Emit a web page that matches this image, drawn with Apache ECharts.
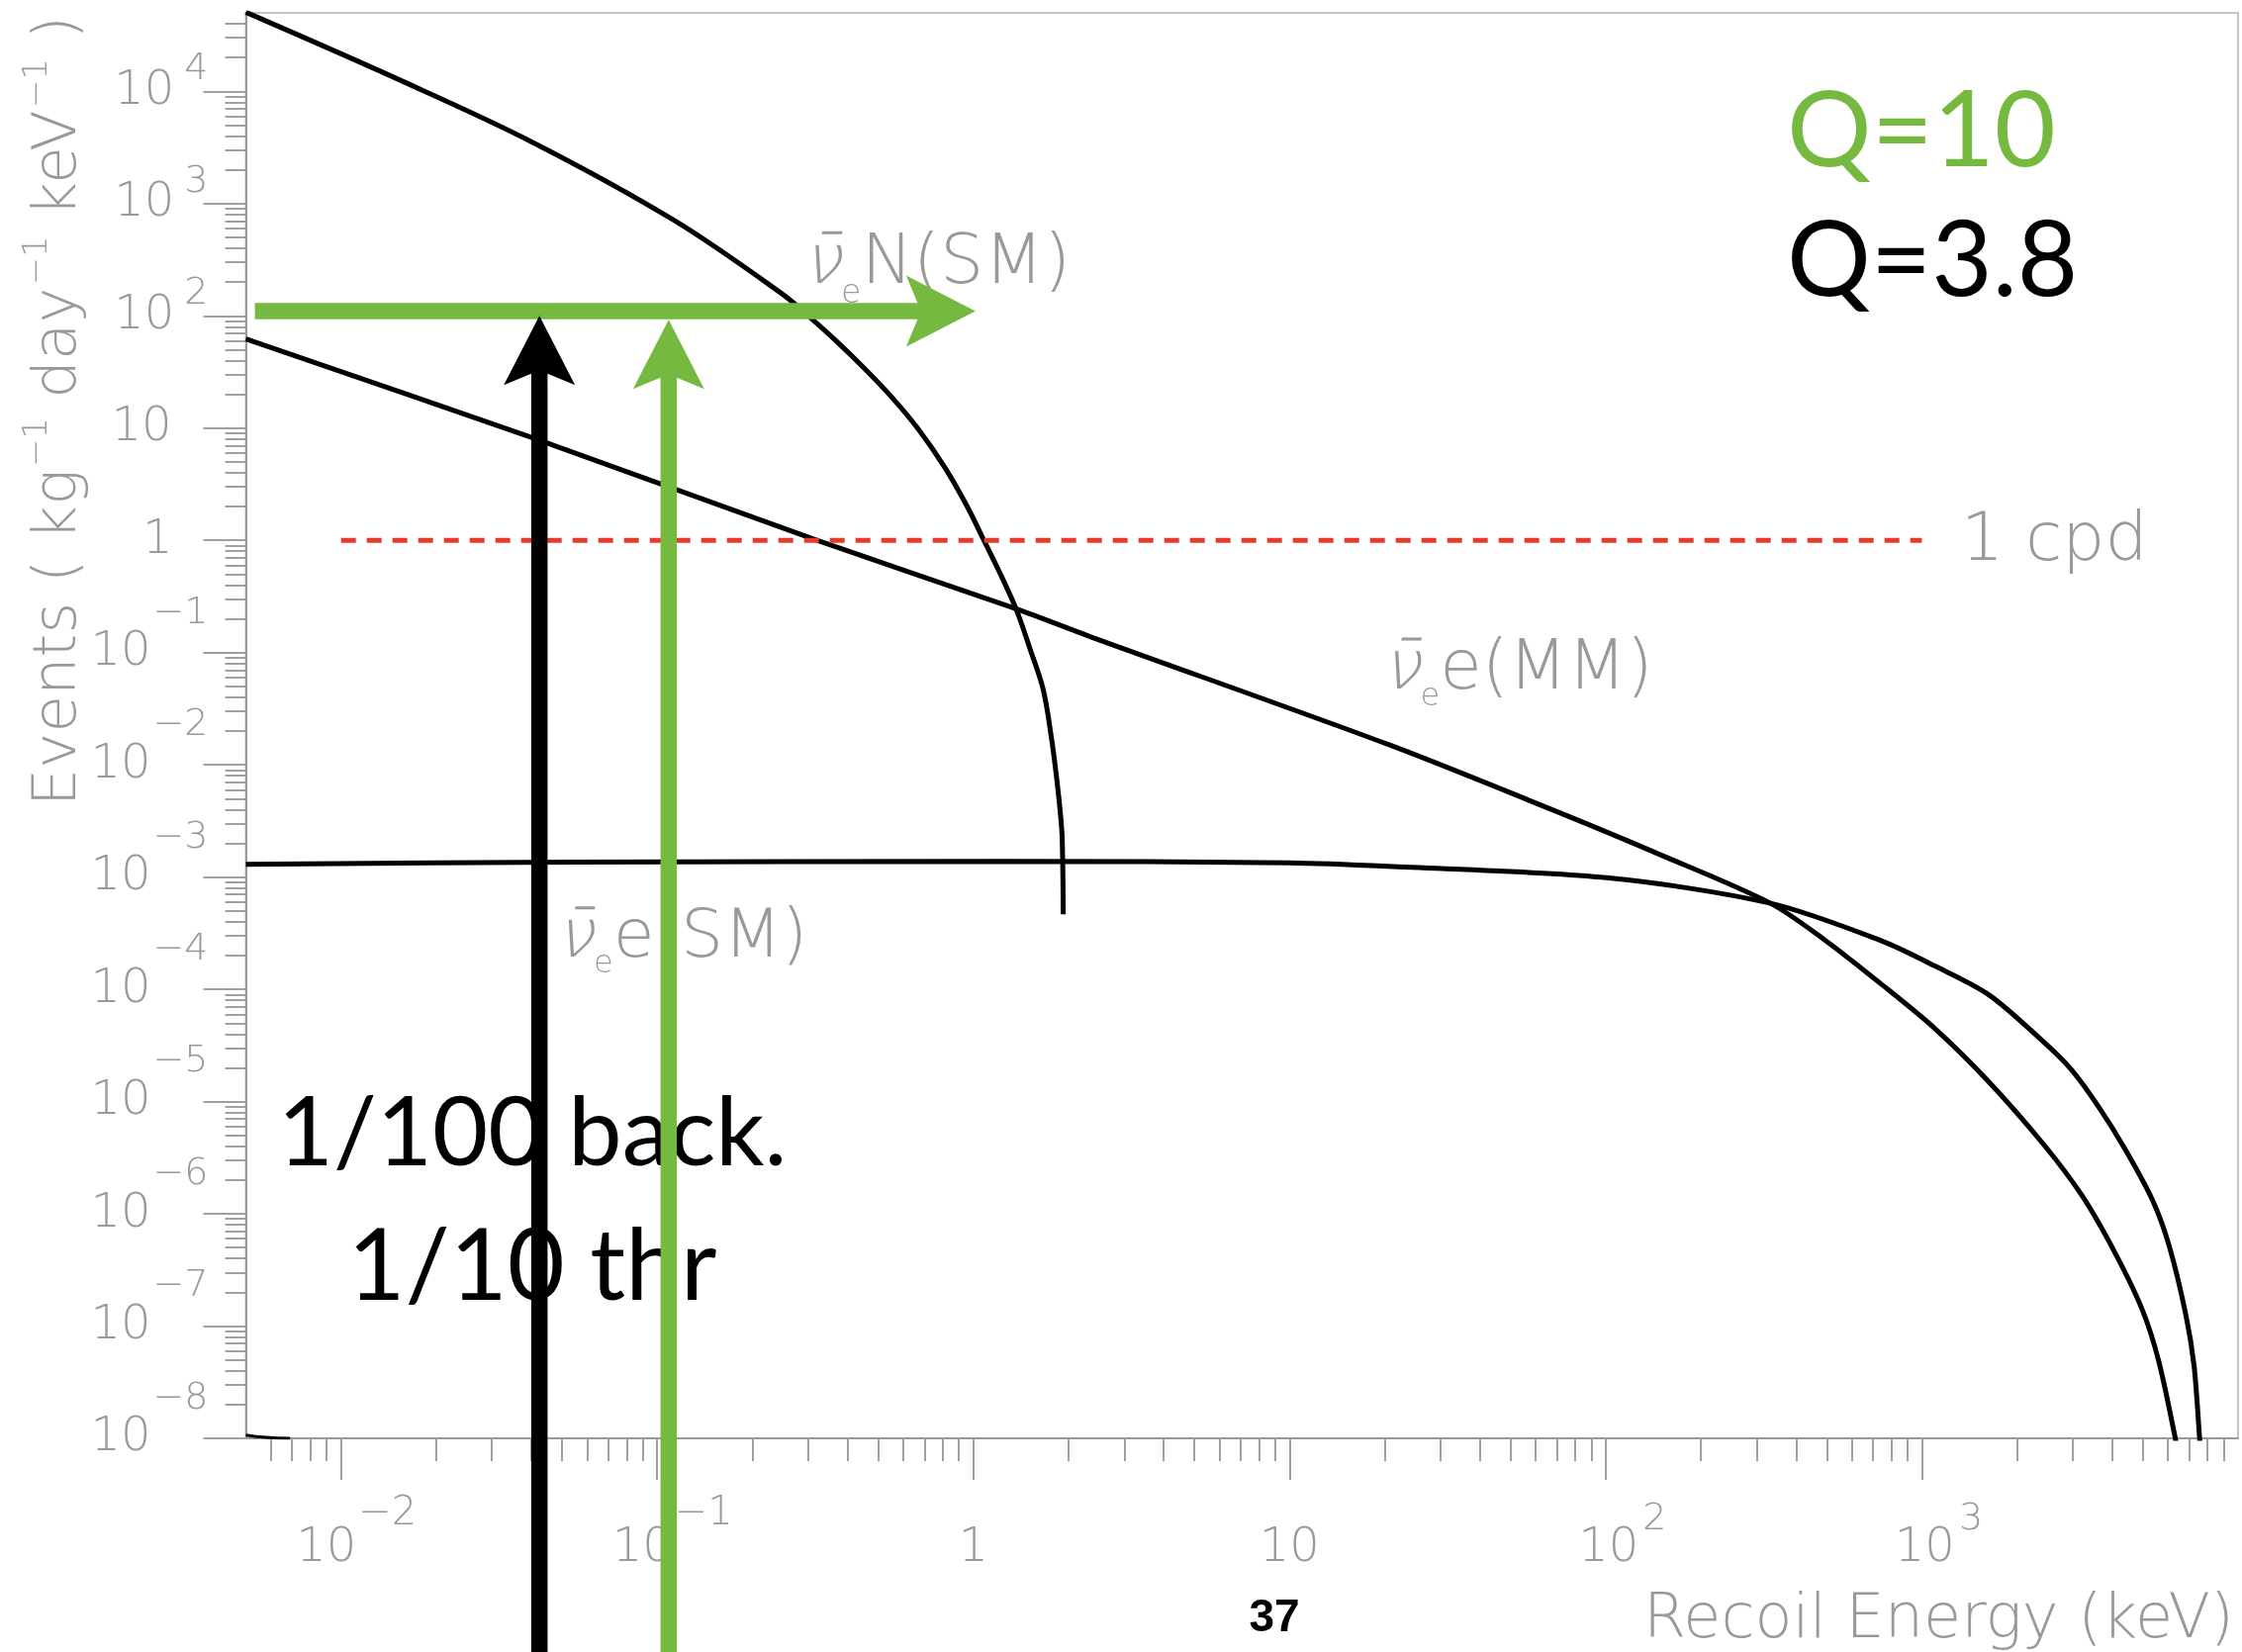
<!DOCTYPE html>
<html><head><meta charset="utf-8">
<script src="https://cdn.jsdelivr.net/npm/echarts@6/dist/echarts.min.js"></script>
<style>html,body{margin:0;padding:0;background:#fff}#c{width:2266px;height:1670px}</style>
</head><body><div id="c"></div>
<script>
// ---------- data ----------
const xMajorTicks = [0.01, 0.1, 1, 10, 100, 1000];
const yMajorTicks = [1e-8, 1e-7, 1e-6, 1e-5, 1e-4, 1e-3, 1e-2, 1e-1, 1, 10, 100, 1e3, 1e4];
const mantissas = [2, 3, 4, 5, 6, 7, 8, 9];

// anti-nu_e N (SM) coherent scattering
const nuN_SM = [[0.005, 5.06e4], [0.01564, 1.23e4], [0.0404, 3510], [0.113, 710], [0.249, 156], [0.3038, 97.2],
  [0.3701, 58.9], [0.4508, 34.3], [0.5496, 19.1], [0.6696, 9.8], [0.8162, 4.36], [0.956, 2.0], [1.076, 1.02],
  [1.212, 0.514], [1.364, 0.2457], [1.506, 0.1107], [1.663, 0.0468], [1.765, 0.01746], [1.836, 7.4e-3],
  [1.887, 3.54e-3], [1.910, 2.16e-3], [1.924, 4.66e-4]];
// anti-nu_e e (MM)
const nue_MM = [[0.005, 62.2], [0.0404, 8.18], [0.3166, 1.01], [1.364, 0.2457], [2.353, 0.138],
  [20.46, 0.01522], [67.55, 3.99e-3], [149.7, 1.57e-3], [331.9, 5.84e-4], [494, 2.74e-4], [736, 1.14e-4],
  [1096, 4.51e-5], [1632, 1.49e-5], [2429, 4.14e-6], [3211, 1.45e-6], [4076, 4.53e-7], [4973, 1.41e-7],
  [5606, 4.94e-8], [6320, 1.03e-8], [6450, 7e-9]];
// anti-nu_e e (SM)
const nue_SM = [[0.005, 1.30e-3], [0.0546, 1.36e-3], [1.243, 1.38e-3], [10, 1.34e-3], [20.46, 1.245e-3],
  [100.6, 9.86e-4], [331.9, 5.84e-4], [736, 2.74e-4], [1096, 1.62e-4], [1632, 8.9e-5], [2429, 3.39e-5],
  [2963, 1.94e-5], [3614, 9.06e-6], [4412, 3.68e-6], [5386, 1.29e-6], [6067, 5.09e-7], [6839, 1.26e-7],
  [7261, 4.41e-8], [7553, 1.03e-8], [7620, 7e-9]];
// small stroke at the lower-left corner
const cornerStroke = [[0.005, 1.07e-8], [0.0058, 1.02e-8], [0.0069, 1.0e-8]];
// 1 count per day reference line
const cpdLine = [[0.01, 1], [1000, 1]];
// arrows: [x0, y0, x1(tip), y1(tip)]
const arrows = [[0.00534, 110, 1.015, 110], [0.0424, 1e-10, 0.0424, 100], [0.1087, 1e-10, 0.1087, 92]];
const arrowColors = ['#76b940', '#000000', '#76b940'];

// ---------- styles ----------
const GRAY = '#999999';
const FONT = '"DejaVu Sans"';
const NU_FONT = '"DejaVu Sans Light", "DejaVu Sans ExtraLight", "DejaVu Sans"';
const GREEN = '#76b940';
const SLIDE_FONT = 'Lato';

const xMinorTicks = [], yMinorTicks = [];
for (let e = -3; e <= 3; e++) mantissas.forEach(m => { const v = m * Math.pow(10, e); if (v > 0.005 && v < 1e4) xMinorTicks.push(v); });
for (let e = -8; e <= 4; e++) mantissas.forEach(m => { const v = m * Math.pow(10, e); if (v < 5e4) yMinorTicks.push(v); });

function expo(v) { return Math.round(Math.log10(v)); }
function supText(e) { return e < 0 ? '\u2212' + (-e) : String(e); }

function fmtX(v) {
  const e = expo(v);
  if (e === 0) return '{b|1}';
  if (e === 1) return '{b|10}';
  return e < 0 ? '{padN|\u00a0}{b|10}{sn|' + supText(e) + '}' : '{padP|\u00a0}{b|10}{sp|' + supText(e) + '}';
}
function fmtY(v) {
  const e = expo(v);
  if (e === 0) return '{b|1}{pad1|\u00a0}';
  if (e === 1) return '{b|10}{pad2|\u00a0}';
  return e < 0 ? '{b|10}{sn|' + supText(e) + '}' : '{b|10}{sp|' + supText(e) + '}';
}
const base = { fontFamily: FONT, fontWeight: 200, color: GRAY };
const tickLine = { color: '#a0a0a0', width: 2 };

const nuRich = (size, subSize, subDrop) => ({
  nu: Object.assign({}, base, { fontFamily: NU_FONT, fontStyle: 'italic', fontSize: size, lineHeight: 160 }),
  sub: Object.assign({}, base, { fontSize: subSize, lineHeight: subSize, padding: [subDrop * 2, 0, 0, 1] }),
  t: Object.assign({}, base, { fontSize: size, lineHeight: 160 })
});

function txt(x, y, text, extra) {
  return Object.assign({ type: 'text', x: x, y: y, z: 5, style: Object.assign({
    text: text, fill: GRAY, font: '200 60px ' + FONT, align: 'left', verticalAlign: 'middle',
    textAlign: 'left', textVerticalAlign: 'middle' }, extra.style || {}) }, extra.el || {});
}

const option = {
  animation: false,
  backgroundColor: '#fff',
  grid: { left: 248.5, right: 4, top: 13, bottom: 216, show: true, borderColor: '#c4c4c4', borderWidth: 2,
    containLabel: false, outerBoundsMode: 'none' },
  xAxis: [{
    type: 'log', min: 0.005, max: 1e4, position: 'bottom',
    axisLine: { show: true, lineStyle: { color: '#999', width: 2 } },
    axisTick: { show: true, inside: false, length: 42, customValues: xMajorTicks, lineStyle: tickLine },
    axisLabel: { show: true, customValues: xMajorTicks, formatter: fmtX, margin: 57, showMinLabel: true, showMaxLabel: true,
      align: 'center', verticalAlign: 'top',
      rich: {
        b: Object.assign({}, base, { fontSize: 48, lineHeight: 110 }),
        padP: { width: 34 }, padN: { width: 31 },
        sp: Object.assign({}, base, { fontSize: 38, lineHeight: 38, padding: [0, 0, 60, 4] }),
        sn: Object.assign({}, base, { fontSize: 40, lineHeight: 40, padding: [0, 0, 70, 2] })
      } },
    splitLine: { show: false }
  }, {
    type: 'log', min: 0.005, max: 1e4, position: 'bottom',
    axisLine: { show: false },
    axisTick: { show: true, inside: false, length: 23, customValues: xMinorTicks, lineStyle: tickLine },
    axisLabel: { show: false }, splitLine: { show: false }
  }],
  yAxis: [{
    type: 'log', min: 1e-8, max: 5e4, position: 'left',
    axisLine: { show: true, lineStyle: { color: '#999', width: 2 } },
    axisTick: { show: true, inside: false, length: 43, customValues: yMajorTicks, lineStyle: tickLine },
    axisLabel: { show: true, customValues: yMajorTicks, formatter: fmtY, margin: 38, showMinLabel: true, showMaxLabel: true,
      align: 'right', verticalAlign: 'middle',
      rich: {
        b: Object.assign({}, base, { fontSize: 48, lineHeight: 48 }),
        pad1: { width: 36 }, pad2: { width: 37 },
        sp: Object.assign({}, base, { fontSize: 38, lineHeight: 38, padding: [-22, 0, 22, 10] }),
        sn: Object.assign({}, base, { fontSize: 38, lineHeight: 38, padding: [-40, 0, 40, 2] })
      } },
    splitLine: { show: false }
  }, {
    type: 'log', min: 1e-8, max: 5e4, position: 'left',
    axisLine: { show: false },
    axisTick: { show: true, inside: false, length: 21, customValues: yMinorTicks, lineStyle: tickLine },
    axisLabel: { show: false }, splitLine: { show: false }
  }],
  series: [
    { name: 'nuN(SM)', type: 'line', data: nuN_SM, showSymbol: false, smooth: 0.35, z: 3,
      lineStyle: { color: '#000', width: 5 } },
    { name: 'nue(MM)', type: 'line', data: nue_MM, showSymbol: false, smooth: 0.3, z: 3,
      lineStyle: { color: '#000', width: 5 } },
    { name: 'nue(SM)', type: 'line', data: nue_SM, showSymbol: false, smooth: 0.3, z: 3,
      lineStyle: { color: '#000', width: 5 } },
    { name: 'corner', type: 'line', data: cornerStroke, showSymbol: false, smooth: true, z: 3,
      lineStyle: { color: '#000', width: 3 } },
    { name: '1 cpd', type: 'line', data: cpdLine, showSymbol: false, z: 3,
      lineStyle: { color: '#e8392f', width: 5, type: [15, 11] } },
    { name: 'arrows', type: 'custom', z: 20, clip: false, data: arrows,
      renderItem: function (params, api) {
        const p0 = api.coord([api.value(0), api.value(1)]);
        const p1 = api.coord([api.value(2), api.value(3)]);
        const dx = p1[0] - p0[0], dy = p1[1] - p0[1];
        const L = Math.sqrt(dx * dx + dy * dy), ux = dx / L, uy = dy / L, nx = -uy, ny = ux;
        const hw = 8.25, headLen = 70, headHalf = 36, notch = 15;
        const sd = headLen - notch * (1 - hw / headHalf);
        const P = (d, o) => [p1[0] - ux * d + nx * o, p1[1] - uy * d + ny * o];
        const pts = [[p0[0] + nx * hw, p0[1] + ny * hw], P(sd, hw), P(headLen, headHalf), [p1[0], p1[1]],
          P(headLen, -headHalf), P(sd, -hw), [p0[0] - nx * hw, p0[1] - ny * hw]];
        return { type: 'polygon', shape: { points: pts }, style: { fill: arrowColors[params.dataIndex] } };
      } }
  ],
  graphic: [
    // y axis title
    txt(60, 16, '{t|Events ( kg}{s|\u22121}{t| day}{s|\u22121}{t| keV}{s|\u22121}{t| )}', {
      el: { rotation: Math.PI / 2 },
      style: { align: 'right', textAlign: 'right', rich: {
        t: Object.assign({}, base, { fontSize: 61, lineHeight: 61 }),
        s: Object.assign({}, base, { fontSize: 34, lineHeight: 34, padding: [-22, 0, 22, 2] }) } } }),
    // x axis title
    txt(2258, 1639, 'Recoil Energy (keV)', { style: { align: 'right', textAlign: 'right', font: '200 62px ' + FONT } }),
    // curve labels
    txt(810, 268, '{nu|\u03bd\u0304}{sub|e}{t|N(SM)}', { style: { rich: nuRich(70, 33, 29) } }),
    txt(1396, 678, '{nu|\u03bd\u0304}{sub|e}{t|e(MM)}', { style: { rich: nuRich(69, 32, 27) } }),
    txt(561, 949, '{nu|\u03bd\u0304}{sub|e}{t|e(SM)}', { style: { rich: nuRich(68, 32, 26) } }),
    txt(1982, 548, '1 cpd', { style: { font: '200 68px ' + FONT } }),
    // slide overlay texts
    txt(1806, 133, 'Q=10', { style: { fill: GREEN, font: '400 107px ' + SLIDE_FONT } }),
    txt(1806, 265, 'Q=3.8', { style: { fill: '#000', font: '400 106px ' + SLIDE_FONT } }),
    txt(538, 1147, '1/100 back.', { style: { fill: '#000', font: '400 97px ' + SLIDE_FONT, align: 'center', textAlign: 'center' } }),
    txt(538, 1282, '1/10 thr', { style: { fill: '#000', font: '400 100px ' + SLIDE_FONT, align: 'center', textAlign: 'center' } }),
    txt(1288, 1636, '37', { style: { fill: '#000', font: 'bold 46px "Liberation Sans Narrow", "Liberation Sans", sans-serif', align: 'center', textAlign: 'center' } })
  ]
};

const chart = echarts.init(document.getElementById('c'), null, { renderer: 'canvas' });
chart.setOption(option);
</script>
</body></html>
